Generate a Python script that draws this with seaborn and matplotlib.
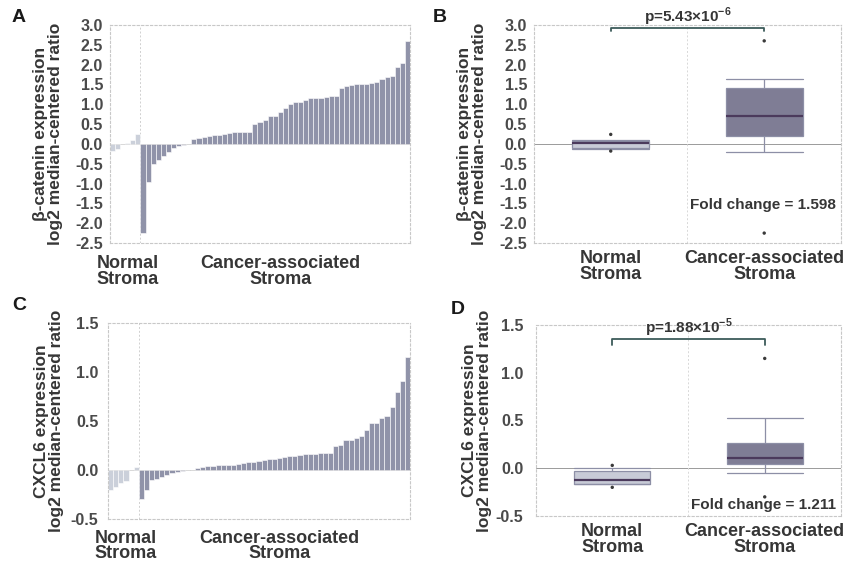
import numpy as np
import pandas as pd
import matplotlib
matplotlib.use("Agg")
import matplotlib.pyplot as plt
import seaborn as sns

# beta-catenin (breast stroma), sorted per group
ctnnb1_normal = [-0.18, -0.13, 0.0, 0.03, 0.09, 0.24]
ctnnb1_cancer = [-2.25, -0.95, -0.5, -0.4, -0.3, -0.2, -0.1, -0.05, -0.03, 0.0,
                 0.13, 0.15, 0.18, 0.2, 0.22, 0.22, 0.25, 0.28, 0.3, 0.3,
                 0.3, 0.3, 0.5, 0.55, 0.6, 0.7, 0.7, 0.8, 0.9, 1.0,
                 1.05, 1.05, 1.1, 1.15, 1.15, 1.15, 1.18, 1.2, 1.22, 1.42,
                 1.45, 1.48, 1.5, 1.5, 1.52, 1.53, 1.55, 1.65, 1.7, 1.72,
                 1.95, 2.05, 2.6]

# CXCL6
cxcl6_normal = [-0.2, -0.17, -0.13, -0.11, 0.0, 0.03]
cxcl6_cancer = [-0.3, -0.2, -0.1, -0.09, -0.07, -0.05, -0.03, -0.02, -0.01, 0.0,
                0.0, 0.02, 0.03, 0.04, 0.04, 0.05, 0.05, 0.05, 0.05, 0.06,
                0.07, 0.08, 0.08, 0.09, 0.1, 0.11, 0.11, 0.12, 0.13, 0.14,
                0.14, 0.15, 0.16, 0.16, 0.16, 0.17, 0.17, 0.17, 0.24, 0.26,
                0.31, 0.31, 0.33, 0.35, 0.41, 0.48, 0.48, 0.53, 0.55, 0.64,
                0.8, 0.91, 1.15]

groups = ["Normal\nStroma", "Cancer-associated\nStroma"]
p_values = [r"p=5.43×10$^{\mathbf{-6}}$", r"p=1.88×10$^{\mathbf{-5}}$"]
fold_changes = ["Fold change = 1.598", "Fold change = 1.211"]
ylabels = ["β-catenin expression\nlog2 median-centered ratio",
           "CXCL6 expression\nlog2 median-centered ratio"]

bar_colors = {groups[0]: "#c9cfdc", groups[1]: "#8c90ad"}
box_colors = {groups[0]: "#c6cad9", groups[1]: "#7c7999"}

sns.set_style("white")
plt.rcParams["font.family"] = ["Liberation Sans", "DejaVu Sans"]
plt.rcParams["mathtext.fontset"] = "custom"
plt.rcParams["mathtext.rm"] = "Liberation Sans"
plt.rcParams["mathtext.bf"] = "Liberation Sans:bold"

fig = plt.figure(figsize=(8.48, 5.62), dpi=100)
axA = fig.add_axes([0.1297, 0.5676, 0.3538, 0.3879])
axB = fig.add_axes([0.6297, 0.5676, 0.3620, 0.3879])
axC = fig.add_axes([0.1274, 0.0765, 0.3561, 0.3488])
axD = fig.add_axes([0.6321, 0.0819, 0.3596, 0.3398])

TICK_COLOR = "#4a4a4a"
TEXT_COLOR = "#363636"


def style_axes(ax, ylim, yticks, pad):
    ax.set_ylim(*ylim)
    ax.set_yticks(yticks)
    ax.set_yticklabels([f"{t:.1f}" for t in yticks], fontsize=11.5,
                       fontweight="bold", color=TICK_COLOR)
    ax.tick_params(length=0, pad=pad)
    for s in ax.spines.values():
        s.set_linestyle((0, (2, 2)))
        s.set_color("#c8c8c8")
        s.set_linewidth(0.8)


def bar_panel(ax, normal, cancer, ylim, yticks, ylabel, pad, labelpad):
    df = pd.DataFrame({
        "sample": np.arange(len(normal) + len(cancer)),
        "value": normal + cancer,
        "group": [groups[0]] * len(normal) + [groups[1]] * len(cancer),
    })
    sns.barplot(data=df, x="sample", y="value", hue="group", palette=bar_colors,
                dodge=False, width=1.0, edgecolor="white", linewidth=0.4,
                legend=False, ax=ax)
    ax.axhline(0, color="#9a9a9a", lw=0.6, zorder=0)
    ax.axvline(len(normal) - 0.5, color="#d0d0d0", lw=0.7, ls=(0, (2, 2)), zorder=0)
    ax.set_xlim(-0.5, len(df) - 0.5)
    ax.set_xticks([])
    ax.set_xlabel("")
    style_axes(ax, ylim, yticks, pad)
    ax.set_ylabel(ylabel, fontsize=12.5, fontweight="bold", color=TEXT_COLOR,
                  linespacing=0.95, labelpad=labelpad)
    n = len(normal)
    ax.text(3.0, -0.055, groups[0], transform=ax.get_xaxis_transform(),
            ha="center", va="top", fontsize=13, fontweight="bold",
            color=TEXT_COLOR, linespacing=0.9)
    ax.text(n + len(cancer) * 0.51, -0.055, groups[1],
            transform=ax.get_xaxis_transform(), ha="center", va="top",
            fontsize=13, fontweight="bold", color=TEXT_COLOR, linespacing=0.9)


def box_panel(ax, normal, cancer, ylim, yticks, ylabel, ptext, fctext,
              bracket_y, bracket_drop, ptext_y, fc_y, pad, labelpad):
    df = pd.DataFrame({
        "value": normal + cancer,
        "group": [groups[0]] * len(normal) + [groups[1]] * len(cancer),
    })
    sns.boxplot(data=df, x="group", y="value", hue="group", order=groups,
                palette=box_colors, width=0.5, whis=(9, 91), showfliers=False,
                linecolor="#8d8fa6", linewidth=0.9, legend=False,
                medianprops={"color": "#4b3a5c", "linewidth": 1.6},
                capwidths=0.5, ax=ax)
    ext = df.groupby("group", sort=False)["value"].agg(["min", "max"]).reset_index()
    ext = ext.melt(id_vars="group", value_name="value")
    sns.scatterplot(data=ext, x="group", y="value", color="#3a3a3a", s=6,
                    edgecolor="none", ax=ax, zorder=5)
    ax.axhline(0, color="#9a9a9a", lw=0.7, zorder=0)
    ax.axvline(0.5, color="#d8d8d8", lw=0.7, ls=(0, (2, 2)), zorder=0)
    ax.set_xlim(-0.5, 1.5)
    ax.set_xlabel("")
    style_axes(ax, ylim, yticks, pad)
    ax.set_xticks([0, 1])
    ax.set_xticklabels(groups, fontsize=13, fontweight="bold", color=TEXT_COLOR,
                       linespacing=0.9)
    ax.tick_params(axis="x", pad=5)
    ax.set_ylabel(ylabel, fontsize=12.5, fontweight="bold", color=TEXT_COLOR,
                  linespacing=0.95, labelpad=labelpad)
    # significance bracket
    ax.plot([0, 0, 1, 1], [bracket_y - bracket_drop, bracket_y, bracket_y,
                           bracket_y - bracket_drop],
            color="#3d5c5a", lw=1.3, clip_on=False, solid_capstyle="round")
    ax.text(0.5, ptext_y, ptext, ha="center", va="center", fontsize=11,
            fontweight="bold", color=TEXT_COLOR, clip_on=False)
    ax.text(1.47, fc_y, fctext, ha="right", va="center", fontsize=11,
            fontweight="bold", color=TEXT_COLOR)


bar_panel(axA, ctnnb1_normal, ctnnb1_cancer, (-2.5, 3.0),
          [3.0, 2.5, 2.0, 1.5, 1.0, 0.5, 0.0, -0.5, -1.0, -1.5, -2.0, -2.5],
          ylabels[0], 5, 9)
bar_panel(axC, cxcl6_normal, cxcl6_cancer, (-0.5, 1.5),
          [1.5, 1.0, 0.5, 0.0, -0.5], ylabels[1], 7, 5)
box_panel(axB, ctnnb1_normal, ctnnb1_cancer, (-2.5, 3.0),
          [3.0, 2.5, 2.0, 1.5, 1.0, 0.5, 0.0, -0.5, -1.0, -1.5, -2.0, -2.5], ylabels[0],
          p_values[0], fold_changes[0], 2.93, 0.08, 3.2, -1.55, 5, 9)
box_panel(axD, cxcl6_normal, cxcl6_cancer, (-0.5, 1.5),
          [1.5, 1.0, 0.5, 0.0, -0.5], ylabels[1],
          p_values[1], fold_changes[1], 1.35, 0.06, 1.47, -0.38, 9, 3)

for label, (x, y) in zip("ABCD", [(12, 18), (433, 18), (12, 306), (451, 309)]):
    fig.text(x / 848, 1 - y / 562, label, fontsize=14, fontweight="bold",
             color="#1a1a1a", ha="left", va="center")

fig.savefig("out.png", dpi=100)
